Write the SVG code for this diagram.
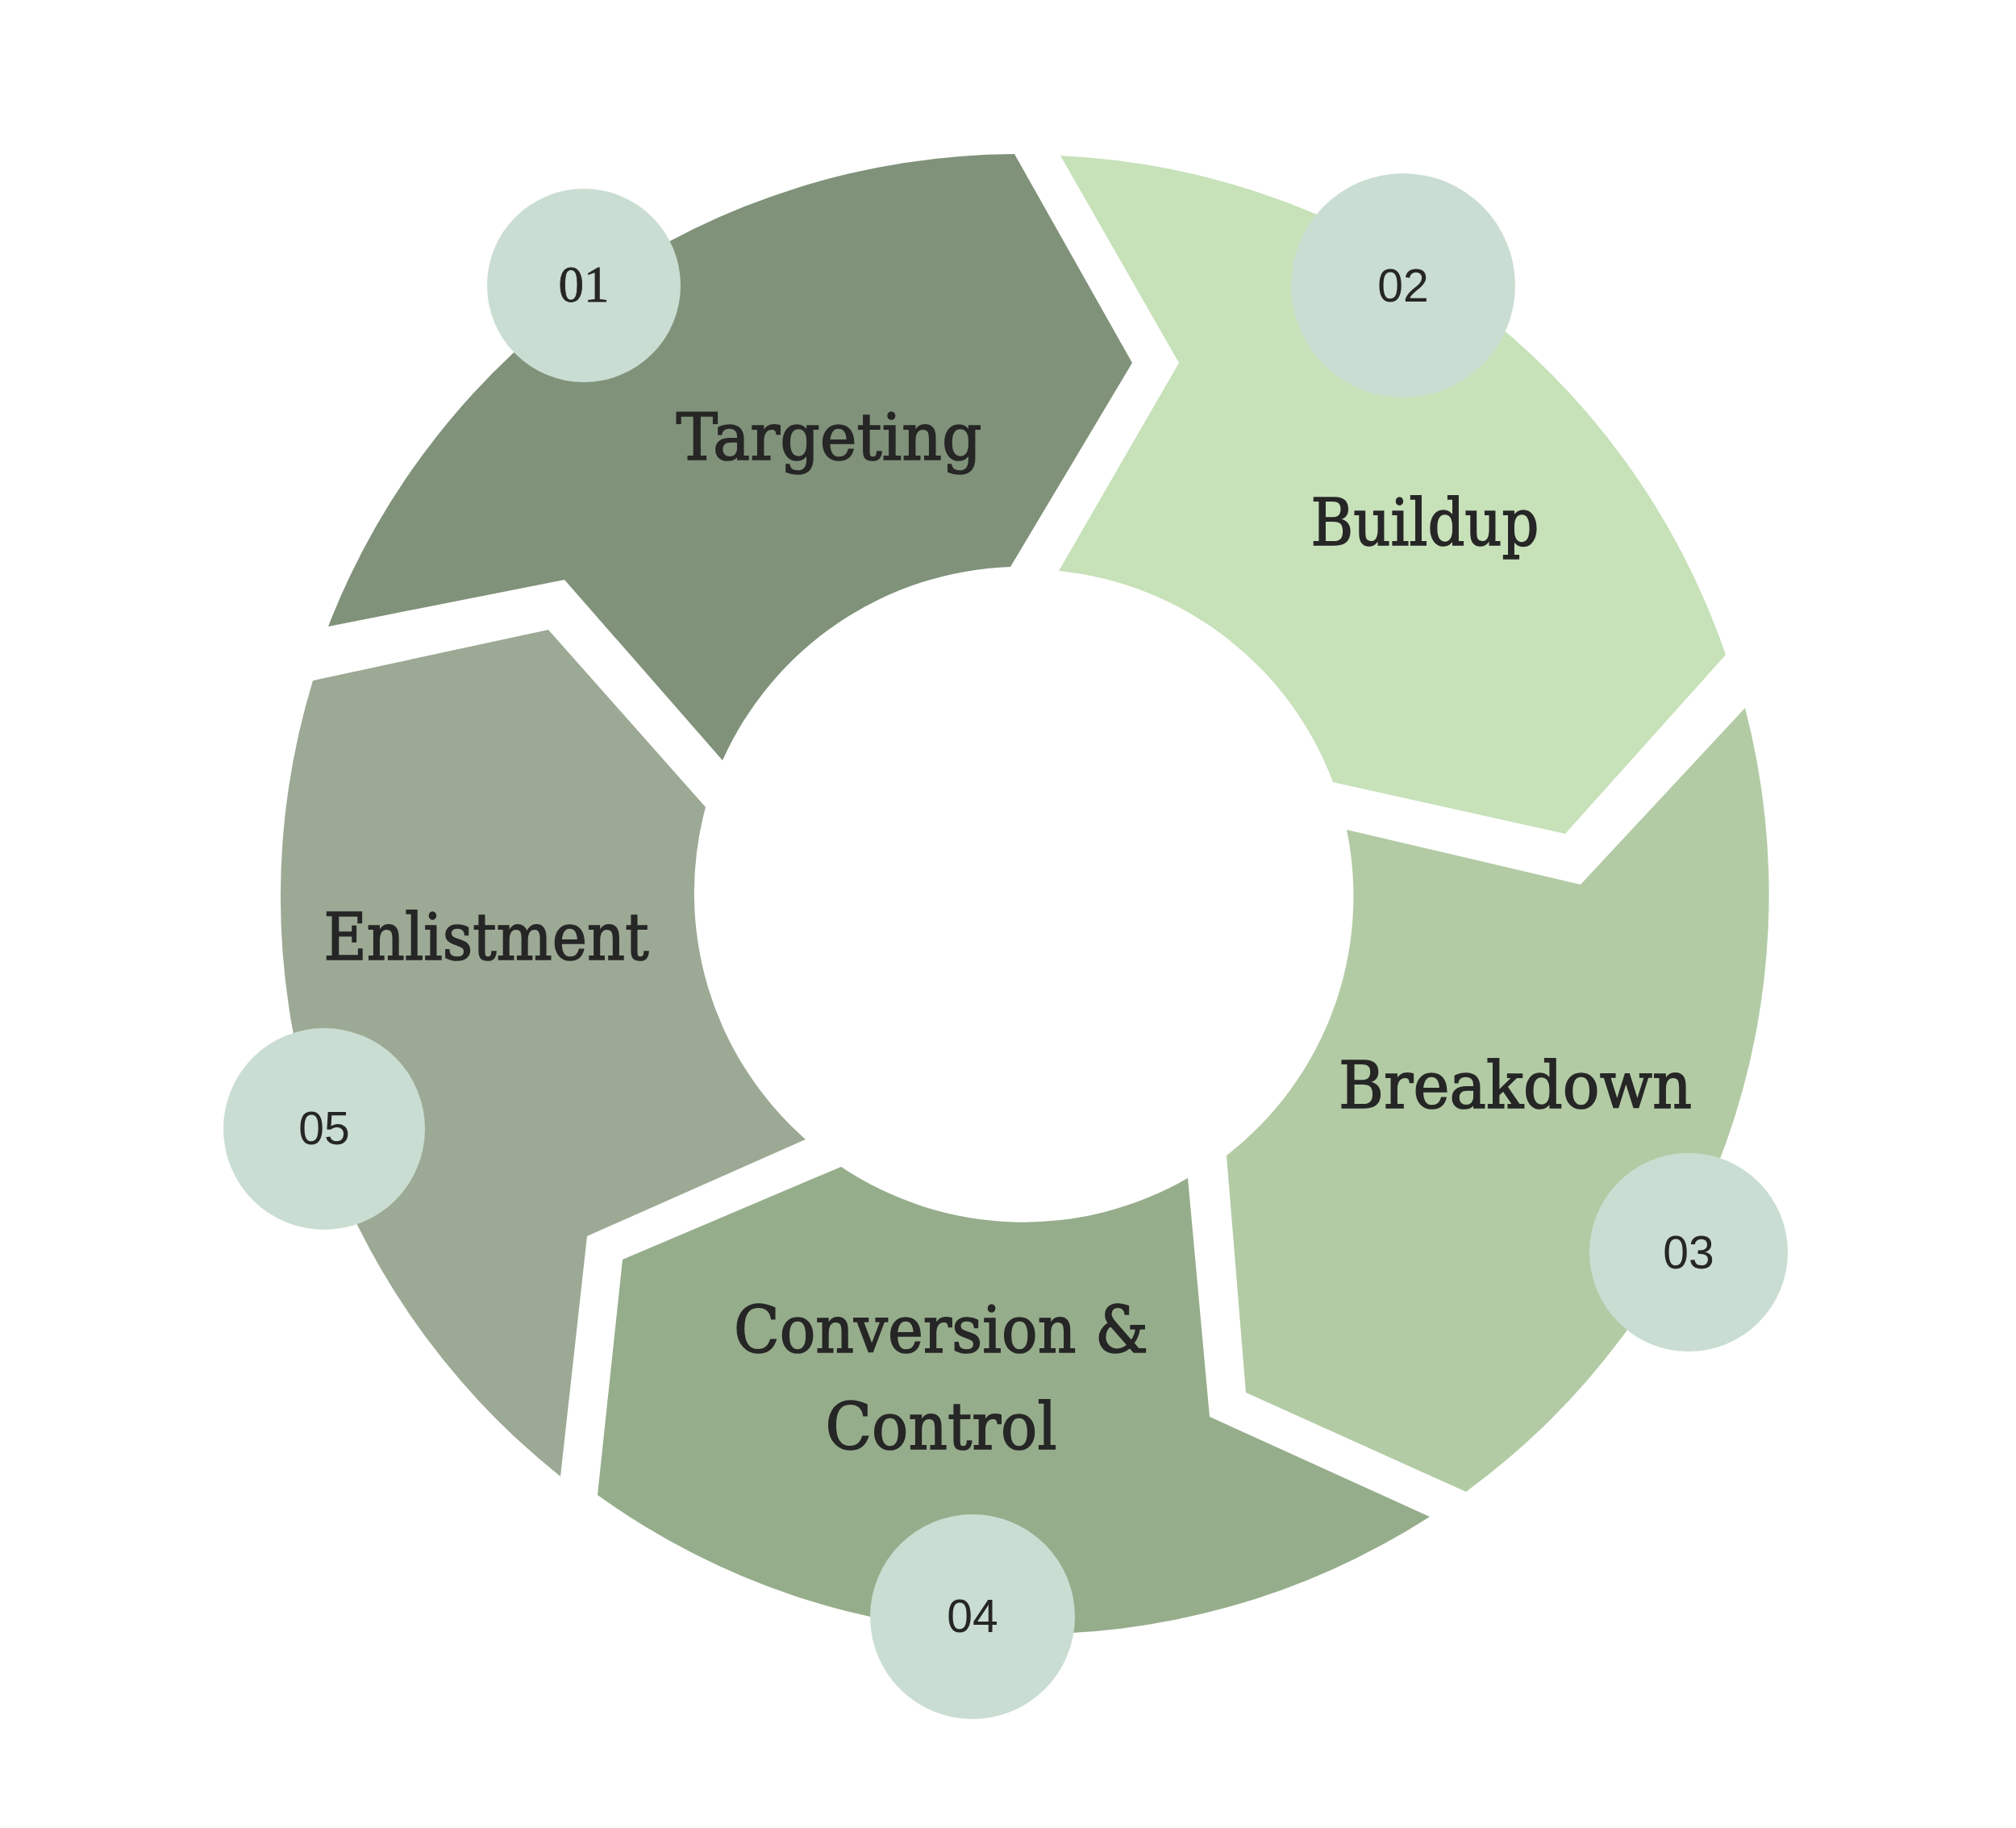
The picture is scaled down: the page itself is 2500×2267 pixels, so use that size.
<svg xmlns="http://www.w3.org/2000/svg" width="2500" height="2267" viewBox="0 0 2500 2267">
<style>
.lbl{font-family:"DejaVu Serif","Liberation Serif",serif;font-size:80px;fill:#262626;stroke:#262626;stroke-width:1.6px;text-anchor:middle}
.num{font-family:"Liberation Sans",Arial,sans-serif;font-size:57px;fill:#262626;text-anchor:middle}
.num1{font-family:"Liberation Serif",serif;font-size:63px;fill:#262626;stroke:#262626;stroke-width:0.8px;text-anchor:middle}
.badge{fill:#CADDD2}
</style>
<rect width="2500" height="2267" fill="#FFFFFF"/>
<g id="connectors"></g>
<g id="seg-targeting">
<path fill="#80927A" d="M407,777 A918,918 0 0 1 1258,191 L1404,450 L1253,703 A407,407 0 0 0 896,943 L700,719 Z"/>
<text class="lbl" x="1028" y="570" textLength="379" lengthAdjust="spacingAndGlyphs">Targeting</text>
</g>
<g id="seg-buildup">
<path fill="#C7E1B9" d="M1315,193 A918,918 0 0 1 2140,812 L1941,1034 L1653,970 A407,407 0 0 0 1313,708 L1462,450 Z"/>
<text class="lbl" x="1767" y="676" textLength="283" lengthAdjust="spacingAndGlyphs">Buildup</text>
</g>
<g id="seg-breakdown">
<path fill="#B2CBA4" d="M2164,878 A918,918 0 0 1 1818,1850 L1545,1727 L1521,1433 A407,407 0 0 0 1670,1029 L1960,1097 Z"/>
<text class="lbl" x="1879" y="1374" textLength="438" lengthAdjust="spacingAndGlyphs">Breakdown</text>
</g>
<g id="seg-conversion">
<path fill="#96AD8B" d="M1773,1881 A918,918 0 0 1 741,1854 L772,1562 L1043,1447 A407,407 0 0 0 1473,1461 L1500,1757 Z"/>
<text class="lbl" x="1167" y="1677" textLength="514" lengthAdjust="spacingAndGlyphs">Conversion &amp;</text>
<text class="lbl" x="1167" y="1797" textLength="287" lengthAdjust="spacingAndGlyphs">Control</text>
</g>
<g id="seg-enlistment">
<path fill="#9CA994" d="M695,1831 A918,918 0 0 1 388,844 L680,781 L875,1001 A407,407 0 0 0 999,1413 L728,1533 Z"/>
<text class="lbl" x="603" y="1190" textLength="403" lengthAdjust="spacingAndGlyphs">Enlistment</text>
</g>
<g id="badge-01">
<circle class="badge" cx="724" cy="354" r="120"/>
<text class="num1" x="724" y="374">01</text>
</g>
<g id="badge-02">
<circle class="badge" cx="1740" cy="354" r="139"/>
<text class="num" x="1740" y="374">02</text>
</g>
<g id="badge-03">
<circle class="badge" cx="2094" cy="1553" r="123"/>
<text class="num" x="2094" y="1573">03</text>
</g>
<g id="badge-04">
<circle class="badge" cx="1206" cy="2005" r="127"/>
<text class="num" x="1206" y="2024">04</text>
</g>
<g id="badge-05">
<circle class="badge" cx="402" cy="1400" r="125"/>
<text class="num" x="402" y="1419">05</text>
</g>
</svg>
